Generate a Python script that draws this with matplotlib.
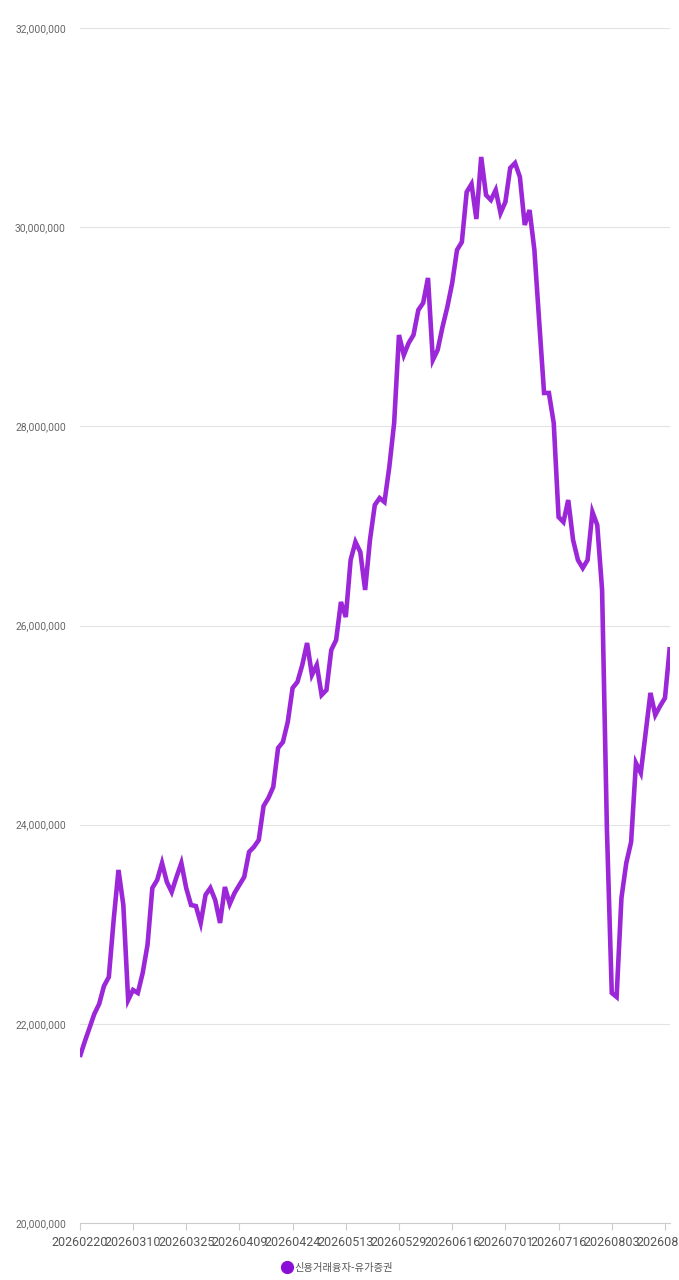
import matplotlib
matplotlib.use("Agg")
import matplotlib.pyplot as plt
from matplotlib.lines import Line2D
from matplotlib.ticker import FuncFormatter
import pandas as pd

plt.rcParams['font.family'] = ['Roboto', 'Noto Sans CJK KR', 'DejaVu Sans']

series_name = "신용거래융자-유가증권"
start_date = "2026-02-20"
holidays = ["2026-03-02", "2026-05-01", "2026-05-05", "2026-05-25",
            "2026-06-03", "2026-07-17", "2026-08-17"]

values = [
    21667000, 21818000, 21958000, 22099000, 22199000, 22380000, 22470000, 23043000,
    23545000, 23193000, 22239000, 22340000, 22310000, 22510000, 22792000, 23364000,
    23444000, 23615000, 23424000, 23324000, 23475000, 23615000, 23364000, 23193000,
    23183000, 23013000, 23294000, 23364000, 23243000, 23013000, 23374000, 23203000,
    23314000, 23395000, 23475000, 23726000, 23776000, 23846000, 24187000, 24268000,
    24378000, 24770000, 24830000, 25031000, 25372000, 25433000, 25603000, 25824000,
    25503000, 25603000, 25302000, 25352000, 25754000, 25854000, 26236000, 26085000,
    26658000, 26839000, 26738000, 26357000, 26859000, 27210000, 27280000, 27240000,
    27592000, 28033000, 28917000, 28716000, 28837000, 28917000, 29168000, 29239000,
    29490000, 28666000, 28767000, 28998000, 29198000, 29439000, 29771000, 29851000,
    30353000, 30433000, 30082000, 30705000, 30323000, 30273000, 30373000, 30142000,
    30253000, 30594000, 30644000, 30504000, 30022000, 30172000, 29771000, 29048000,
    28335000, 28335000, 28033000, 27090000, 27039000, 27260000, 26859000, 26658000,
    26577000, 26658000, 27140000, 27009000, 26357000, 23946000, 22310000, 22270000,
    23264000, 23615000, 23826000, 24619000, 24519000, 24920000, 25323000, 25101000,
    25192000, 25272000, 25784000,
]

dates = pd.bdate_range(start=start_date, periods=len(values), freq="C",
                       holidays=holidays)
date_labels = [d.strftime("%Y%m%d") for d in dates]

y_min, y_max, y_step = 20000000, 32000000, 2000000
label_every = 11

W, H = 679, 1280
fig = plt.figure(figsize=(W / 100, H / 100), dpi=100)
ax = fig.add_axes([79.8 / W, 57 / H, (669.8 - 79.8) / W, (1223 - 28) / H])

x = list(range(len(values)))
line_color = "#9B27D8"
ax.plot(x, values, color=line_color, lw=3.3, solid_joinstyle="miter",
        solid_capstyle="butt", zorder=3)

ax.set_xlim(0, len(values) - 1)
ax.set_ylim(y_min, y_max)
ax.set_yticks(range(y_min, y_max + 1, y_step))
ax.yaxis.set_major_formatter(FuncFormatter(lambda v, p: f"{int(v):,}"))
ax.grid(axis="y", color="#e3e3e3", lw=0.8, zorder=0)
ax.tick_params(axis="y", length=0, labelsize=7.4, labelcolor="#666666", pad=10)

tick_idx = list(range(0, len(values), label_every))
ax.set_xticks(tick_idx)
ax.set_xticklabels([date_labels[i] for i in tick_idx])
ax.tick_params(axis="x", length=5, width=0.8, color="#cccccc",
               labelsize=9.0, labelcolor="#555555", pad=4)

for s in ["top", "right", "left"]:
    ax.spines[s].set_visible(False)
ax.spines["bottom"].set_color("#cccccc")
ax.spines["bottom"].set_linewidth(0.8)
ax.set_axisbelow(True)

handle = Line2D([], [], marker="o", color="none", markerfacecolor="#8A0FD6",
                markeredgecolor="#8A0FD6", markersize=8.5, label=series_name)
leg = fig.legend(handles=[handle], loc="center", bbox_to_anchor=(0.497, 12 / H),
                 frameon=False, handletextpad=0.3, handlelength=1.0,
                 prop={"family": ["Noto Sans CJK KR", "DejaVu Sans"], "size": 7.4})
for t in leg.get_texts():
    t.set_color("#555555")

fig.savefig("out.png", dpi=100, facecolor="white")
